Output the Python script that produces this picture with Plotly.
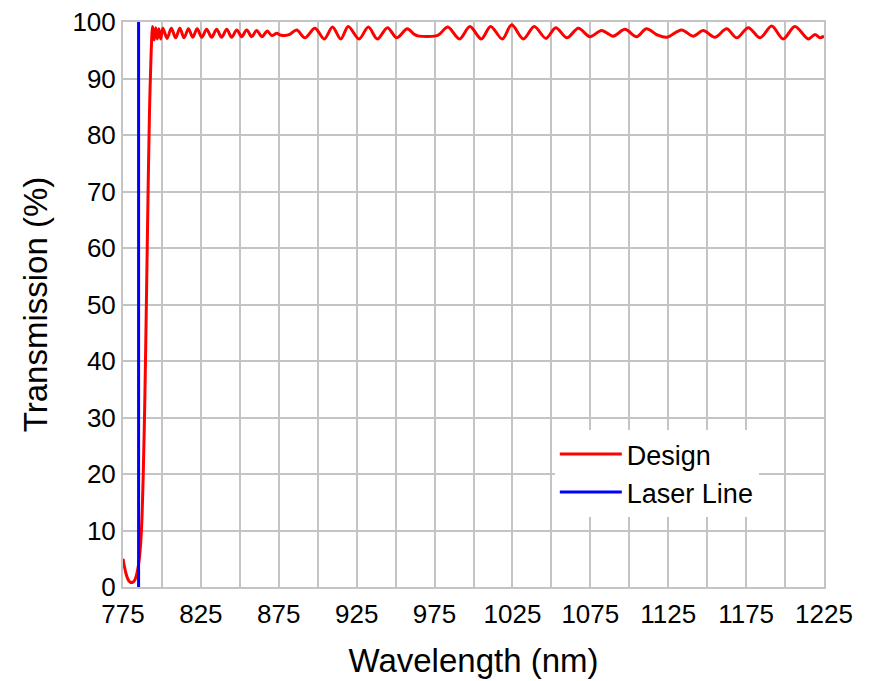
import plotly.graph_objects as go

# Design transmission curve
wavelength = [775, 776, 777, 778, 779, 780, 781, 782, 783, 784, 785, 786, 787, 788, 789, 790,
              791, 792, 793, 794, 795, 796, 797, 798, 799.2, 800.6, 803.3, 806.0, 808.8,
              811.5, 814.2, 817.0, 819.8, 822.6, 825.6, 828.7, 831.9, 835.1, 838.3, 841.6,
              844.8, 848.0, 851.2, 854.4, 857.6, 860.8, 864.2, 867.6, 870.5, 873.7, 876,
              879, 882, 886.5, 891.8, 898.2, 904.2, 909.5, 914.8, 919.6, 926.5, 932.5,
              938.3, 944.8, 950.7, 957.5, 962, 965, 975, 978, 983.5, 991, 997.7, 1005,
              1011, 1018.5, 1024.5, 1032, 1039, 1046.5, 1052.8, 1060, 1067.3, 1074.7,
              1082.2, 1089.7, 1097.2, 1104.7, 1111, 1118, 1124, 1133.6, 1141, 1147.5,
              1155, 1162.5, 1169, 1176.4, 1184, 1191.4, 1198.8, 1206.3, 1214.9, 1219.2,
              1222.4, 1225]
transmission = [5.0, 3.5, 2.3, 1.5, 1.0, 0.8, 0.8, 1.0, 1.5, 2.5, 4.0, 6.5, 11, 20, 33, 50,
                68, 84, 94, 99.2, 96.8, 99.0, 97.0, 98.8, 97.0, 98.9, 97.1, 98.9, 97.2,
                98.9, 97.2, 98.8, 97.3, 98.8, 97.3, 98.7, 97.3, 98.7, 97.3, 98.7,
                97.3, 98.6, 97.4, 98.6, 97.4, 98.5, 97.4, 98.4, 97.6, 98.0, 97.7,
                97.6, 97.8, 98.6, 97.2, 98.9, 97.0, 99.1, 97.0, 99.2, 97.0, 99.1,
                97.0, 99.0, 97.2, 98.8, 97.8, 97.5, 97.5, 97.8, 99.1, 97.0, 99.2, 97.0,
                99.2, 97.0, 99.5, 97.0, 99.2, 97.1, 99.0, 97.2, 98.9, 97.4,
                98.5, 97.5, 98.7, 97.4, 98.8, 97.7, 97.3, 98.6, 97.5, 98.5,
                97.3, 98.8, 97.2, 99.0, 97.2, 99.3, 97.0, 99.2, 97.0, 97.8,
                97.2, 97.5]

laser_x = [785, 785]
laser_y = [0, 100]

font = "Liberation Sans, Arial, sans-serif"
grid = "#c4c4c4"

fig = go.Figure()

fig.add_trace(go.Scatter(
    x=wavelength, y=transmission, mode="lines", name="Design",
    line=dict(color="#ff0000", width=3, shape="spline", smoothing=0.9)
))

fig.add_trace(go.Scatter(
    x=laser_x, y=laser_y, mode="lines", name="Laser Line",
    line=dict(color="#0000ff", width=3)
))

# page body has an 8px margin, so the figure is sized to fit the window
fig.update_layout(
    width=863, height=673,
    margin=dict(l=115, r=47, t=14, b=94),
    paper_bgcolor="white", plot_bgcolor="white",
    font=dict(family=font, size=24, color="black"),
    showlegend=True,
    legend=dict(x=0.616, y=0.278, xanchor="left", yanchor="top",
                bgcolor="white", font=dict(size=27), itemwidth=62,
                tracegroupgap=0),
    xaxis=dict(
        range=[775, 1225], tick0=775, dtick=50,
        showgrid=True, gridcolor=grid, gridwidth=2,
        minor=dict(dtick=25, showgrid=True, gridcolor=grid, gridwidth=2),
        showline=True, linecolor=grid, linewidth=2, mirror=True,
        ticks="", zeroline=False, automargin=False,
        ticklabeloverflow="allow", ticklabelstandoff=3,
        title=dict(text="Wavelength (nm)", font=dict(size=33), standoff=21),
        tickfont=dict(size=26),
    ),
    yaxis=dict(
        range=[0, 100], dtick=10,
        showgrid=True, gridcolor=grid, gridwidth=2,
        showline=True, linecolor=grid, linewidth=2, mirror=True,
        ticks="", zeroline=False, automargin=False,
        ticklabeloverflow="allow",
        title=dict(text="Transmission (%)", font=dict(size=33), standoff=15),
        tickfont=dict(size=26),
    ),
)

fig.write_html("out.html")
